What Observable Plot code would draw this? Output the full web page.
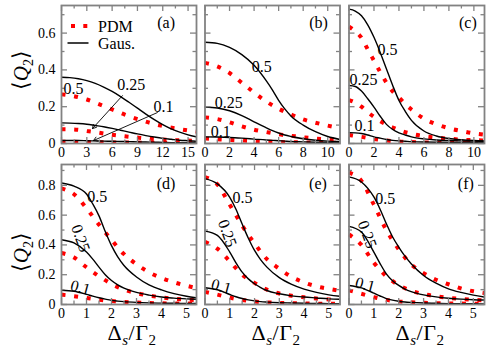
<!DOCTYPE html>
<html><head><meta charset="utf-8">
<script src="https://cdn.jsdelivr.net/npm/d3@7"></script>
<script src="https://cdn.jsdelivr.net/npm/@observablehq/plot@0.6"></script>
<style>
body{margin:0;background:#fff}
#wrap{position:relative;width:498px;height:352px;overflow:hidden;font-family:"Liberation Serif","Times New Roman",serif;font-weight:normal;color:#000}
#wrap svg{position:absolute;left:0;top:0}
.ytitle{position:absolute;font-size:21px;white-space:nowrap;transform:translate(-50%,-50%) rotate(-90deg);line-height:1;font-weight:normal}
.xtitle{position:absolute;font-size:22px;white-space:nowrap;transform:translate(-50%,-50%);line-height:1;font-weight:normal;letter-spacing:0.5px}
.sub{font-size:0.68em;position:relative;top:0.32em}
.br{font-size:1.05em}
</style></head><body><div id="wrap"></div><script>
// ---------- data ----------
const seriesNames = ["PDM", "Gaus."];
const panelNames = ["(a)", "(b)", "(c)", "(d)", "(e)", "(f)"];
const curveNames = ["0.5", "0.25", "0.1"];

// top row ticks
const xMajorA = [0, 3, 6, 9, 12, 15];
const xLabelsA = ["0", "3", "6", "9", "12", "15"];
const xMinorA = [1.5, 4.5, 7.5, 10.5, 13.5];
const xMajorBC = [0, 2, 4, 6, 8, 10];
const xLabelsBC = ["0", "2", "4", "6", "8", "10"];
const xMinorBC = [1, 3, 5, 7, 9];
const yMajorTop = [0, 0.2, 0.4, 0.6];
const yLabelsTop = ["0", "0.2", "0.4", "0.6"];
const yMinorTop = [0.1, 0.3, 0.5, 0.7];
// bottom row ticks
const xMajorBot = [0, 1, 2, 3, 4, 5];
const xLabelsBot = ["0", "1", "2", "3", "4", "5"];
const xMinorBot = [0.5, 1.5, 2.5, 3.5, 4.5];
const yMajorBot = [0, 0.2, 0.4, 0.6, 0.8];
const yLabelsBot = ["0", "0.2", "0.4", "0.6", "0.8"];
const yMinorBot = [0.1, 0.3, 0.5, 0.7, 0.9];

// panel (a)
const aGausX = [0,1,2,3,4,5,6,7,8,9,10,11,12,13,14,15,16];
const aGaus05 = [0.360,0.358,0.352,0.342,0.327,0.307,0.283,0.255,0.224,0.192,0.160,0.130,0.103,0.080,0.062,0.047,0.036];
const aGaus025 = [0.112,0.111,0.109,0.105,0.098,0.091,0.082,0.072,0.062,0.052,0.043,0.035,0.028,0.023,0.018,0.015,0.012];
const aGaus01 = [0.016,0.016,0.016,0.015,0.014,0.013,0.012,0.011,0.010,0.009,0.008,0.007,0.006,0.005,0.005,0.004,0.004];
const aPdmX = [0,1.5,3,4.5,6,7.5,9,10.5,12,13.5,15,16];
const aPdm05 = [0.267,0.257,0.239,0.213,0.185,0.157,0.133,0.112,0.095,0.082,0.071,0.065];
const aPdm025 = [0.078,0.076,0.068,0.058,0.047,0.039,0.032,0.026,0.022,0.018,0.016,0.015];
const aPdm01 = [0.009,0.009,0.008,0.007,0.006,0.005,0.005,0.004,0.004,0.003,0.003,0.003];

// panel (b)
const bGausX = [0,1,2,3,4,5,5.5,6,6.5,7,8,9,10,11];
const bGaus05 = [0.550,0.544,0.522,0.483,0.425,0.340,0.290,0.235,0.188,0.150,0.100,0.064,0.038,0.022];
const bGaus025 = [0.198,0.193,0.178,0.152,0.118,0.085,0.070,0.057,0.046,0.038,0.026,0.018,0.013,0.011];
const bGaus01 = [0.036,0.035,0.033,0.029,0.024,0.019,0.017,0.015,0.013,0.011,0.009,0.007,0.006,0.006];
const bPdmX = [0,1,2,3,4,5,6,7,8,9,10,11];
const bPdm05 = [0.438,0.419,0.383,0.330,0.277,0.228,0.189,0.158,0.131,0.113,0.097,0.083];
const bPdm025 = [0.142,0.133,0.115,0.093,0.075,0.062,0.050,0.042,0.034,0.027,0.023,0.020];
const bPdm01 = [0.027,0.023,0.019,0.016,0.013,0.010,0.008,0.007,0.006,0.005,0.004,0.004];

// panel (c)
const cGausX = [0,0.5,1,1.5,2,2.5,3,3.5,4,4.5,5,6,7,8,9,10,11];
const cGaus05 = [0.730,0.720,0.694,0.645,0.577,0.495,0.405,0.315,0.234,0.175,0.126,0.068,0.041,0.027,0.020,0.016,0.014];
const cGaus025 = [0.315,0.310,0.285,0.243,0.198,0.148,0.104,0.076,0.058,0.046,0.036,0.025,0.019,0.016,0.014,0.013,0.012];
const cGaus01 = [0.059,0.058,0.054,0.046,0.036,0.029,0.022,0.017,0.014,0.012,0.010,0.008,0.007,0.006,0.006,0.005,0.005];
const cPdmX = [0,0.5,1,1.5,2,2.5,3,3.5,4,4.5,5,6,7,8,9,10,11];
const cPdm05 = [0.635,0.610,0.575,0.512,0.450,0.388,0.330,0.283,0.250,0.214,0.185,0.135,0.105,0.083,0.068,0.055,0.047];
const cPdm025 = [0.236,0.222,0.200,0.170,0.145,0.122,0.103,0.087,0.073,0.062,0.053,0.040,0.032,0.026,0.021,0.018,0.016];
const cPdm01 = [0.046,0.041,0.036,0.030,0.024,0.020,0.016,0.013,0.011,0.009,0.008,0.006,0.005,0.004,0.004,0.003,0.003];

// bottom row sample positions
const botGausX = [0,0.5,1,1.25,1.5,1.75,2,2.25,2.5,3,3.5,4,4.5,5,5.5];
const botPdmX = [0,0.5,1,1.5,2,2.5,3,3.5,4,4.5,5,5.5];

// panel (d)
const dGaus05 = [0.816,0.795,0.742,0.675,0.595,0.490,0.395,0.320,0.262,0.185,0.132,0.098,0.073,0.055,0.042];
const dGaus025 = [0.435,0.413,0.352,0.305,0.251,0.200,0.161,0.132,0.110,0.081,0.063,0.050,0.043,0.038,0.034];
const dGaus01 = [0.096,0.089,0.068,0.056,0.045,0.036,0.028,0.023,0.019,0.014,0.011,0.009,0.008,0.007,0.006];
const dPdm05 = [0.780,0.740,0.646,0.536,0.434,0.338,0.270,0.216,0.178,0.149,0.126,0.106];
const dPdm025 = [0.346,0.316,0.250,0.190,0.138,0.100,0.077,0.060,0.048,0.039,0.033,0.029];
const dPdm01 = [0.066,0.056,0.044,0.032,0.023,0.017,0.013,0.010,0.008,0.007,0.006,0.005];

// panel (e)
const eGaus05 = [0.845,0.810,0.720,0.640,0.540,0.445,0.363,0.300,0.251,0.180,0.135,0.103,0.081,0.065,0.054];
const eGaus025 = [0.493,0.464,0.352,0.280,0.217,0.172,0.139,0.114,0.094,0.072,0.058,0.050,0.044,0.038,0.035];
const eGaus01 = [0.112,0.099,0.067,0.052,0.040,0.031,0.024,0.019,0.016,0.012,0.010,0.008,0.007,0.006,0.005];
const ePdm05 = [0.855,0.806,0.670,0.530,0.410,0.305,0.240,0.185,0.148,0.122,0.105,0.090];
const ePdm025 = [0.420,0.375,0.290,0.200,0.145,0.100,0.074,0.059,0.048,0.040,0.034,0.030];
const ePdm01 = [0.085,0.066,0.046,0.030,0.020,0.014,0.011,0.009,0.007,0.006,0.005,0.004];

// panel (f)
const fGaus05 = [0.857,0.823,0.722,0.640,0.543,0.455,0.386,0.325,0.274,0.195,0.143,0.105,0.081,0.063,0.049];
const fGaus025 = [0.525,0.487,0.352,0.275,0.206,0.160,0.128,0.104,0.087,0.065,0.051,0.042,0.036,0.032,0.030];
const fGaus01 = [0.128,0.112,0.076,0.057,0.040,0.029,0.022,0.017,0.014,0.010,0.008,0.006,0.005,0.005,0.004];
const fPdm05 = [0.885,0.830,0.670,0.500,0.370,0.270,0.210,0.166,0.136,0.108,0.089,0.076];
const fPdm025 = [0.470,0.400,0.280,0.190,0.130,0.093,0.070,0.055,0.045,0.037,0.031,0.027];
const fPdm01 = [0.095,0.072,0.049,0.031,0.021,0.015,0.011,0.009,0.007,0.006,0.005,0.004];

// curve label anchors (data units) per panel: [x, y, rotation]
const annotA = [[1.42,0.298,0],[8.28,0.32,0],[12.1,0.2,0]];
const annotB = [[4.63,0.417,0],[1.94,0.222,0],[1.28,0.065,0]];
const annotC = [[3.09,0.51,0],[1.16,0.347,0],[1.24,0.098,0]];
const annotD = [[1.43,0.72,0],[0.76,0.444,70],[0.76,0.114,15]];
const annotE = [[1.51,0.713,0],[0.9,0.477,70],[0.66,0.121,15]];
const annotF = [[1.46,0.706,0],[0.73,0.47,70],[0.65,0.134,15]];
const letterPos = [[12.4,0.656],[9.25,0.656],[9.52,0.656],[4.18,0.813],[4.56,0.813],[4.7,0.813]];
// arrows in panel (a): label -> curve
const arrowsA = [
  {x1: 7.22, y1: 0.26, x2: 3.67, y2: 0.081},
  {x1: 11.36, y1: 0.168, x2: 3.79, y2: 0.016}
];

// ---------- drawing ----------
const W = 498, H = 352;
const FONT = "Liberation Serif, Times New Roman, serif";
const frameColor = "#828282";
const pdmColor = "#ff0000";
const wrap = document.getElementById("wrap");
const svgStyle = "background:transparent;font-family:'Liberation Serif','Times New Roman',serif;font-size:13.5px;color:black;overflow:visible";

const toPts = (xs, ys) => xs.map((x, i) => ({x, y: ys[i]}));

function legendMark(index, scales, values, dims) {
  const x0 = dims.marginLeft, y0 = dims.marginTop;
  const g = d3.create("svg:g").attr("font-family", FONT);
  g.append("line").attr("x1", x0 + 10).attr("x2", x0 + 27.5).attr("y1", y0 + 21).attr("y2", y0 + 21)
    .attr("stroke", pdmColor).attr("stroke-width", 4).attr("stroke-dasharray", "4,8.3");
  g.append("line").attr("x1", x0 + 6.5).attr("x2", x0 + 27.5).attr("y1", y0 + 38).attr("y2", y0 + 38)
    .attr("stroke", "black").attr("stroke-width", 1.5);
  g.append("text").attr("x", x0 + 37).attr("y", y0 + 21).attr("dy", "0.35em").attr("text-anchor", "start")
    .attr("font-size", 16).attr("fill", "black").text(seriesNames[0]);
  g.append("text").attr("x", x0 + 37).attr("y", y0 + 38).attr("dy", "0.35em").attr("text-anchor", "start")
    .attr("font-size", 16).attr("fill", "black").text(seriesNames[1]);
  return g.node();
}

function panel(o) {
  const pw = W - o.left - o.right, ph = H - o.top - o.bottom;
  const inX = v => v >= o.xDomain[0] && v <= o.xDomain[1];
  const inY = v => v >= o.yDomain[0] && v <= o.yDomain[1];
  const xMaj = o.xMajor.filter(inX), xMin = o.xMinor.filter(inX);
  const yMaj = o.yMajor.filter(inY), yMin = o.yMinor.filter(inY);
  const gaus = [o.g05, o.g025, o.g01].map(ys => toPts(o.gX, ys));
  const pdm = [o.p05, o.p025, o.p01].map(ys => toPts(o.pX, ys));
  const labels = o.annot.map((a, i) => ({t: curveNames[i], x: a[0], y: a[1], r: a[2]}));
  const tickStyle = {stroke: frameColor, strokeWidth: 1.3};
  const marks = [
    ...pdm.map(d => Plot.line(d, {x: "x", y: "y", curve: "monotone-x", stroke: pdmColor, strokeWidth: 4,
      strokeDasharray: "4,8.7", strokeLinecap: "butt", clip: true})),
    ...gaus.map(d => Plot.line(d, {x: "x", y: "y", curve: "monotone-x", stroke: "black", strokeWidth: 1.4, clip: true})),
    Plot.tickX(xMaj, {x: d => d, insetTop: ph - 6, ...tickStyle}),
    Plot.tickX(xMaj, {x: d => d, insetBottom: ph - 6, ...tickStyle}),
    Plot.tickX(xMin, {x: d => d, insetTop: ph - 3.5, ...tickStyle}),
    Plot.tickX(xMin, {x: d => d, insetBottom: ph - 3.5, ...tickStyle}),
    Plot.tickY(yMaj, {y: d => d, insetRight: pw - 6, ...tickStyle}),
    Plot.tickY(yMaj, {y: d => d, insetLeft: pw - 6, ...tickStyle}),
    Plot.tickY(yMin, {y: d => d, insetRight: pw - 3.5, ...tickStyle}),
    Plot.tickY(yMin, {y: d => d, insetLeft: pw - 3.5, ...tickStyle}),
    Plot.frame({stroke: frameColor, strokeWidth: 1.8}),
    Plot.axisX(o.xMajor, {tickSize: 0, tickPadding: 4, label: null, fill: "black", fontSize: 14, fontFamily: FONT,
      tickFormat: d => o.xLabels[o.xMajor.indexOf(d)]}),
    Plot.text(labels, {x: "x", y: "y", text: "t", rotate: "r", fontSize: 16, fontFamily: FONT, fill: "black"}),
    Plot.text([o.letter], {x: d => d.x, y: d => d.y, text: d => d.t, fontSize: 16, fontFamily: FONT, fill: "black"})
  ];
  if (o.yLabels) marks.push(Plot.axisY(o.yMajor, {tickSize: 0, tickPadding: 6, label: null, fill: "black", fontSize: 14, fontFamily: FONT,
      tickFormat: d => o.yLabels[o.yMajor.indexOf(d)]}));
  if (o.arrows) marks.push(Plot.arrow(o.arrows, {x1: "x1", y1: "y1", x2: "x2", y2: "y2", stroke: "black", strokeWidth: 0.9, headLength: 7}));
  if (o.legend) marks.push(legendMark);
  const svg = Plot.plot({
    width: W, height: H,
    marginLeft: o.left, marginRight: o.right, marginTop: o.top, marginBottom: o.bottom,
    x: {domain: o.xDomain, axis: null},
    y: {domain: o.yDomain, axis: null},
    style: svgStyle,
    marks
  });
  svg.setAttribute("font-family", FONT);
  wrap.appendChild(svg);
}

const topRow = {top: 5, bottom: 209, yDomain: [0, 0.75], yMajor: yMajorTop, yMinor: yMinorTop};
const botRow = {top: 164, bottom: 48, yDomain: [0, 0.94], yMajor: yMajorBot, yMinor: yMinorBot,
  xMajor: xMajorBot, xMinor: xMinorBot, xLabels: xLabelsBot, gX: botGausX, pX: botPdmX};
const col1 = {left: 61, right: 302}, col2 = {left: 204.5, right: 158.5}, col3 = {left: 348.5, right: 14};
const letter = i => ({t: panelNames[i], x: letterPos[i][0], y: letterPos[i][1]});

panel({...topRow, ...col1, xDomain: [0, 16], xMajor: xMajorA, xMinor: xMinorA, xLabels: xLabelsA, yLabels: yLabelsTop,
  gX: aGausX, g05: aGaus05, g025: aGaus025, g01: aGaus01, pX: aPdmX, p05: aPdm05, p025: aPdm025, p01: aPdm01,
  annot: annotA, letter: letter(0), arrows: arrowsA, legend: true});
panel({...topRow, ...col2, xDomain: [0, 11], xMajor: xMajorBC, xMinor: xMinorBC, xLabels: xLabelsBC,
  gX: bGausX, g05: bGaus05, g025: bGaus025, g01: bGaus01, pX: bPdmX, p05: bPdm05, p025: bPdm025, p01: bPdm01,
  annot: annotB, letter: letter(1)});
panel({...topRow, ...col3, xDomain: [0, 10.85], xMajor: xMajorBC, xMinor: [...xMinorBC, 11], xLabels: xLabelsBC,
  gX: cGausX, g05: cGaus05, g025: cGaus025, g01: cGaus01, pX: cPdmX, p05: cPdm05, p025: cPdm025, p01: cPdm01,
  annot: annotC, letter: letter(2)});
panel({...botRow, ...col1, xDomain: [0, 5.4], yLabels: yLabelsBot,
  g05: dGaus05, g025: dGaus025, g01: dGaus01, p05: dPdm05, p025: dPdm025, p01: dPdm01,
  annot: annotD, letter: letter(3)});
panel({...botRow, ...col2, xDomain: [0, 5.45],
  g05: eGaus05, g025: eGaus025, g01: eGaus01, p05: ePdm05, p025: ePdm025, p01: ePdm01,
  annot: annotE, letter: letter(4)});
panel({...botRow, ...col3, xDomain: [0, 5.45],
  g05: fGaus05, g025: fGaus025, g01: fGaus01, p05: fPdm05, p025: fPdm025, p01: fPdm01,
  annot: annotF, letter: letter(5)});

// axis titles
const yTitleHTML = '<span class="br">\u27E8</span><i>Q</i><span class="sub">2</span><span class="br">\u27E9</span>';
const xTitleHTML = '\u0394<span class="sub"><i>s</i></span>/\u0393<span class="sub">2</span>';
[[21, 70], [21, 252]].forEach(([x, y]) => {
  const d = document.createElement("div");
  d.className = "ytitle"; d.style.left = x + "px"; d.style.top = y + "px"; d.innerHTML = yTitleHTML;
  wrap.appendChild(d);
});
[[132, 333], [276, 333], [420, 333]].forEach(([x, y]) => {
  const d = document.createElement("div");
  d.className = "xtitle"; d.style.left = x + "px"; d.style.top = y + "px"; d.innerHTML = xTitleHTML;
  wrap.appendChild(d);
});
</script></body></html>
